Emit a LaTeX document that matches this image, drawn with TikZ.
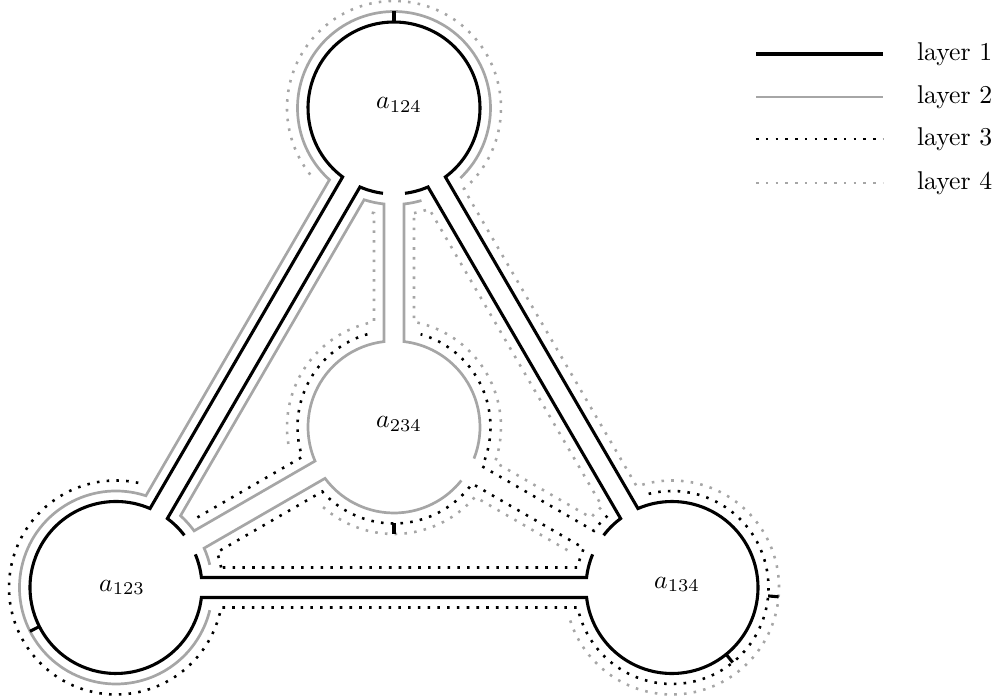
\documentclass[tikz,border=0pt]{standalone}
\usetikzlibrary{calc}
\begin{document}
\begin{tikzpicture}[x=0.389pt,y=0.389pt,
  L1/.style={black,line width=1.2pt},
  L2/.style={black!35,line width=1.05pt},
  L3/.style={black,line width=1pt,dash pattern=on 1pt off 2.8pt},
  L4/.style={black!35,line width=1pt,dash pattern=on 1pt off 2.8pt},
  tick/.style={black,line width=1.2pt},
  lbl/.style={inner sep=1pt}]
\useasboundingbox (0,0) rectangle (999,700);
\coordinate (A) at (394,592);
\coordinate (B) at (116,112.5);
\coordinate (C) at (672,112.5);
\coordinate (D) at (394,273);

% ---------- layer 1 ----------
\draw[L1] ($(A)+(306.68:86)$) arc[start angle=306.68,end angle=593.32,radius=86]
  -- ($(B)+(66.68:86)$) arc[start angle=66.68,end angle=353.32,radius=86]
  -- ($(C)+(186.68:86)$) arc[start angle=186.68,end angle=473.32,radius=86] -- cycle;
\draw[L1] ($(A)+(277.35:86)$) arc[start angle=277.35,end angle=293.32,radius=86]
  -- ($(C)+(126.68:86)$) arc[start angle=126.68,end angle=142.65,radius=86];
\draw[L1] ($(C)+(157.35:86)$) arc[start angle=157.35,end angle=173.32,radius=86]
  -- ($(B)+(6.68:86)$) arc[start angle=6.68,end angle=22.65,radius=86];
\draw[L1] ($(B)+(37.35:86)$) arc[start angle=37.35,end angle=53.32,radius=86]
  -- ($(A)+(246.68:86)$) arc[start angle=246.68,end angle=262.65,radius=86];

% ---------- layer 2 ----------
\draw[L2] ($(A)+(313.48:96.5)$) arc[start angle=313.48,end angle=588.04,radius=96.5]
  -- ($(B)+(71.96:96.5)$) arc[start angle=71.96,end angle=346.4,radius=96.5];
\draw[L2] ($(B)+(13.6:96.5)$) arc[start angle=13.6,end angle=24.05,radius=96.5]
  -- ($(D)+(216.68:86)$) arc[start angle=216.68,end angle=321.55,radius=86];
\draw[L2] ($(D)+(338.45:86)$) arc[start angle=338.45,end angle=443.32,radius=86]
  -- ($(A)+(275.95:96.5)$) arc[start angle=275.95,end angle=286.52,radius=96.5];
\draw[L2] ($(A)+(251.96:96.5)$) arc[start angle=251.96,end angle=264.05,radius=96.5]
  -- ($(D)+(96.68:86)$) arc[start angle=96.68,end angle=203.32,radius=86]
  -- ($(B)+(35.95:96.5)$) arc[start angle=35.95,end angle=48.04,radius=96.5] -- cycle;

% ---------- layer 3 ----------
\draw[L3] ($(B)+(77.96:107)$) arc[start angle=77.96,end angle=349.23,radius=107]
  -- ($(C)+(191.96:96.5)$) arc[start angle=191.96,end angle=468,radius=96.5];
\draw[L3] ($(C)+(132:96.5)$) arc[start angle=132,end angle=144.05,radius=96.5]
  -- ($(D)+(335.95:96.5)$) arc[start angle=335.95,end angle=434,radius=96.5];
\draw[L3] ($(D)+(106:96.5)$) arc[start angle=106,end angle=198.04,radius=96.5]
  -- ($(B)+(40.77:107)$);
\draw[L3] ($(B)+(10.77:107)$) arc[start angle=10.77,end angle=19.23,radius=107]
  -- ($(D)+(221.96:96.5)$) arc[start angle=221.96,end angle=324.05,radius=96.5]
  -- ($(C)+(155.95:96.5)$) arc[start angle=155.95,end angle=168.04,radius=96.5] -- cycle;

% ---------- layer 4 ----------
\draw[L4] ($(C)+(197.96:107)$) arc[start angle=197.96,end angle=469.23,radius=107]
  -- ($(A)+(310.77:107)$) arc[start angle=310.77,end angle=582.04,radius=107];
\draw[L4] ($(A)+(257.96:107)$) arc[start angle=257.96,end angle=259.23,radius=107]
  -- ($(D)+(100.77:107)$) arc[start angle=100.77,end angle=191.5,radius=107];
\draw[L4] ($(D)+(228.5:107)$) arc[start angle=228.5,end angle=319.23,radius=107]
  -- ($(C)+(160.77:107)$);
\draw[L4] ($(A)+(280.77:107)$) arc[start angle=280.77,end angle=289.23,radius=107]
  -- ($(C)+(130.77:107)$) arc[start angle=130.77,end angle=139.23,radius=107]
  -- ($(D)+(340.77:107)$) arc[start angle=340.77,end angle=439.23,radius=107] -- cycle;

% ---------- ticks ----------
\draw[tick] ($(A)+(90:86)$) -- ($(A)+(90:96.5)$);
\draw[tick] ($(B)+(207:86)$) -- ($(B)+(207:96.5)$);
\draw[tick] ($(C)+(-51:86)$) -- ($(C)+(-51:96.5)$);
\draw[tick] ($(C)+(-5:96.5)$) -- ($(C)+(-5:107)$);
\draw[tick] ($(D)+(270:96.5)$) -- ($(D)+(270:107)$);

% ---------- labels ----------
\node[lbl] (la) at ($(A)+(5,3)$) {$a_{124}$};
\node[lbl] (lb) at ($(B)+(6,0)$) {$a_{123}$};
\node[lbl] (lc) at ($(C)+(5,3)$) {$a_{134}$};
\node[lbl] (ld) at ($(D)+(5,3)$) {$a_{234}$};

% ---------- legend ----------
\coordinate (g1s) at (756,646); \coordinate (g1e) at (883,646);
\coordinate (g2s) at (756,603); \coordinate (g2e) at (883,603);
\coordinate (g3s) at (756,561); \coordinate (g3e) at (883,561);
\coordinate (g4s) at (756,517); \coordinate (g4e) at (883,517);
\draw[L1] (g1s) -- (g1e);
\draw[L2] (g2s) -- (g2e);
\draw[L3] (g3s) -- (g3e);
\draw[L4] (g4s) -- (g4e);
\node[anchor=west] (t1) at (908,646) {layer 1};
\node[anchor=west] (t2) at (908,603) {layer 2};
\node[anchor=west] (t3) at (908,561) {layer 3};
\node[anchor=west] (t4) at (908,517) {layer 4};
\end{tikzpicture}
\end{document}
